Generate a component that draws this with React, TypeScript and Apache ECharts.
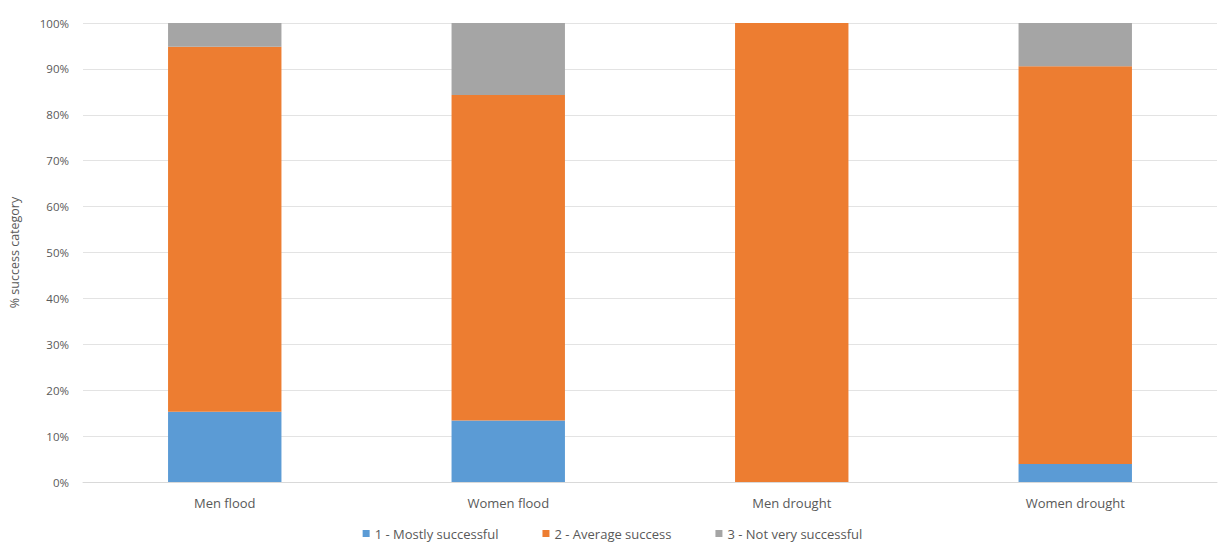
import React, { useEffect, useRef } from "react";
import * as echarts from "echarts";

const categories = ["Men flood", "Women flood", "Men drought", "Women drought"];
const mostlySuccessful = [15.3, 13.4, 0, 3.9];
const averageSuccess = [79.5, 70.9, 100, 86.7];
const notVerySuccessful = [5.2, 15.7, 0, 9.4];
const seriesNames = ["1 - Mostly successful", "2 - Average success", "3 - Not very successful"];
const colors = ["#5B9BD5", "#ED7D31", "#A5A5A5"];

export default function App() {
  const ref = useRef<HTMLDivElement>(null);
  useEffect(() => {
    if (!ref.current) return;
    const chart = echarts.init(ref.current, null, { renderer: "svg" });
    const textColor = "#595959";
    const font = "Open Sans";
    const mk = (name: string, data: number[], color: string) => ({
      name,
      type: "bar",
      stack: "total",
      data,
      barWidth: "40%",
      itemStyle: { color },
      emphasis: { disabled: true },
    });
    chart.setOption({
      animation: false,
      color: colors,
      grid: { left: 83, right: 8, top: 23, bottom: 64, containLabel: false },
      legend: {
        bottom: 1,
        left: "center",
        itemWidth: 7,
        itemHeight: 7,
        itemGap: 44,
        icon: "rect",
        textStyle: { color: textColor, fontSize: 13, fontFamily: font },
        data: seriesNames,
      },
      xAxis: {
        type: "category",
        data: categories,
        axisLine: { show: true, lineStyle: { color: "#D9D9D9" } },
        axisTick: { show: false },
        axisLabel: { color: textColor, fontSize: 13, fontFamily: font, margin: 14 },
      },
      yAxis: {
        type: "value",
        min: 0,
        max: 100,
        interval: 10,
        name: "% success category",
        nameLocation: "middle",
        nameGap: 62,
        nameRotate: 90,
        nameTextStyle: { color: textColor, fontSize: 12.5, fontFamily: font },
        axisLine: { show: false },
        axisTick: { show: false },
        axisLabel: { color: textColor, fontSize: 11.5, fontFamily: font, formatter: "{value}%", margin: 14 },
        splitLine: { lineStyle: { color: "#E3E3E3" } },
      },
      series: [
        mk(seriesNames[0], mostlySuccessful, colors[0]),
        mk(seriesNames[1], averageSuccess, colors[1]),
        mk(seriesNames[2], notVerySuccessful, colors[2]),
      ],
    });
    return () => chart.dispose();
  }, []);
  return <div ref={ref} style={{ width: 1225, height: 546, position: "absolute", left: 0, top: 0 }} />;
}
